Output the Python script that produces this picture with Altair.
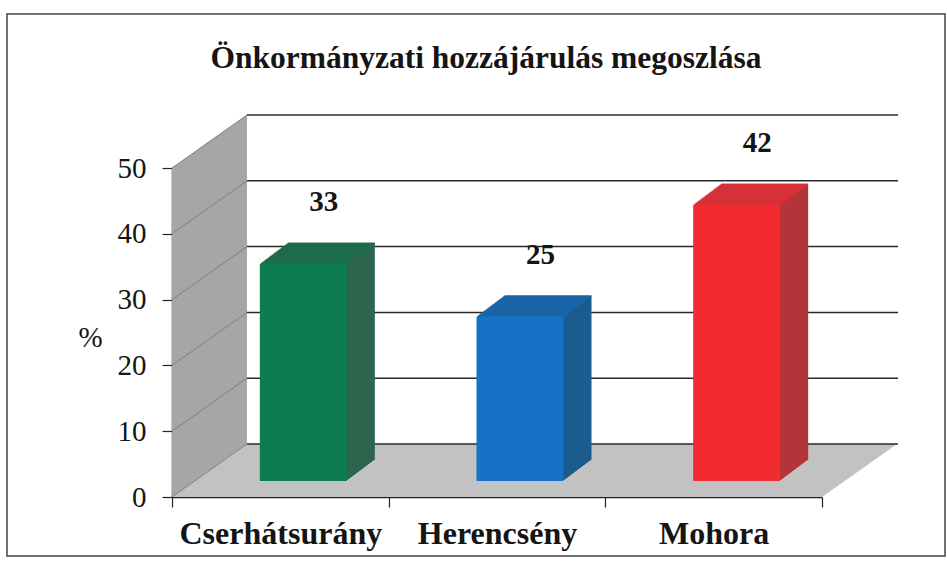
import altair as alt
import pandas as pd

# ---------------- data ----------------
categories = ["Cserhátsurány", "Herencsény", "Mohora"]
values = [33, 25, 42]
y_ticks = [0, 10, 20, 30, 40, 50]
title_text = "Önkormányzati hozzájárulás megoszlása"
y_title = "%"

# ---------------- styles ----------------
front_colors = ["#0c7d50", "#1672c6", "#f22b30"]
top_colors = ["#1d6c4a", "#1765a6", "#d6303a"]
side_colors = ["#2e6550", "#1b5d8e", "#b3353a"]
FONT = "Liberation Serif"
INK = "#151515"

W, H = 650, 329
LEFT, TOP = 172, 168
PAD = {"left": LEFT, "top": TOP, "right": 947 - LEFT - W, "bottom": 571 - TOP - H}

BAR_W = 87
BX, BY = 23, -16      # bar position inside the 3D depth
DX, DY = 28, 21       # bar depth (pixels)
N = 21                # steps for the bevel faces
WALL_DX, WALL_DY = 75, 53

bars_df = pd.DataFrame({"category": categories, "value": values})
ticks_df = pd.DataFrame({"tick": y_ticks})
one_df = pd.DataFrame({"k": [0]})

x_scale = alt.Scale(domain=categories, paddingInner=0, paddingOuter=0)
y_scale = alt.Scale(domain=[0, 50], nice=False, zero=True)

x_axis = alt.Axis(
    title=None, labelAngle=0, labelFont=FONT, labelFontSize=32, labelFontWeight="bold",
    labelColor=INK, labelPadding=11, labelLimit=400, tickBand="extent", tickSize=10,
    tickColor="#222", tickWidth=1.2, domainColor="#222", domainWidth=1.5, grid=False,
    labelOverlap=False,
)
y_axis = alt.Axis(
    values=y_ticks, title=y_title, titleAngle=0, titleX=-82, titleY=169,
    titleAlign="center", titleBaseline="middle", titleFont=FONT, titleFontSize=29,
    titleFontWeight="normal", titleColor=INK, labelFont=FONT, labelFontSize=29,
    labelColor=INK, labelPadding=16, tickSize=10, tickColor="#222", tickWidth=1.2,
    domainColor="#222", domainWidth=1.5, grid=False, labelFlush=False, labelOverlap=False,
)

X = alt.X("category:N", sort=categories, scale=x_scale, axis=x_axis)


def Y(field):
    return alt.Y(f"{field}:Q", scale=y_scale, axis=y_axis)


def C(rng):
    return alt.Color("category:N", scale=alt.Scale(domain=categories, range=rng), legend=None)


# outer frame
frame = alt.Chart(one_df).mark_rect(fillOpacity=0, stroke="#444", strokeWidth=1.5).encode(
    x=alt.value(-165), x2=alt.value(773), y=alt.value(-154), y2=alt.value(388)
)

# side wall (left) and floor as custom polygons
side_wall = alt.Chart(one_df).mark_point(
    shape="M-0.1963,-0.7225 L0.1963,-1 L0.1963,0.7225 L-0.1963,1 Z",
    filled=True, size=382 ** 2, color="#a6a6a6", opacity=1, strokeWidth=0,
).encode(x=alt.value(37.5), y=alt.value(138))

floor = alt.Chart(one_df).mark_point(
    shape="M-1,0.0731 L0.7931,0.0731 L1,-0.0731 L-0.7931,-0.0731 Z",
    filled=True, size=725 ** 2, color="#c2c2c2", opacity=1, strokeWidth=0,
).encode(x=alt.value(362.5), y=alt.value(302.5))

side_lines = alt.Chart(ticks_df).mark_rule(
    color="#808080", strokeWidth=1, y2Offset=-WALL_DY
).encode(x=alt.value(0), x2=alt.value(WALL_DX), y=Y("tick"), y2=alt.Y2("tick:Q"))

gridlines = alt.Chart(ticks_df).mark_rule(
    color="#2a2a2a", strokeWidth=1.5, yOffset=-WALL_DY
).encode(x=alt.value(WALL_DX), x2=alt.value(W + WALL_DX + 1), y=Y("tick"))

layers = [frame, side_wall, floor, side_lines, gridlines]

# side (dark) extrusion
for k in range(N, 0, -1):
    off_x = BX + DX * k / N
    off_y = BY - DY * k / N
    layers.append(
        alt.Chart(bars_df).mark_bar(
            size=BAR_W, xOffset=off_x, yOffset=off_y, y2Offset=off_y, opacity=1
        ).encode(x=X, y=Y("value"), color=C(side_colors))
    )

# top faces
for k in range(1, N + 1):
    layers.append(
        alt.Chart(bars_df).mark_bar(
            size=BAR_W, xOffset=BX + DX * k / N,
            yOffset=BY - DY * k / N, y2Offset=BY - DY * (k - 1) / N + 0.6, opacity=1
        ).encode(x=X, y=Y("value"), y2=alt.Y2("value:Q"), color=C(top_colors))
    )

# front faces
front = alt.Chart(bars_df).mark_bar(
    size=BAR_W, xOffset=BX, yOffset=BY, y2Offset=BY, opacity=1
).encode(x=X, y=Y("value"), color=C(front_colors))
layers.append(front)

labels = alt.Chart(bars_df).mark_text(
    font=FONT, fontSize=29, fontWeight="bold", color=INK, xOffset=43.5, yOffset=-78
).encode(x=X, y=Y("value"), text="value:Q")
layers.append(labels)

title = alt.Chart(one_df).mark_text(
    text=title_text, font=FONT, fontSize=31.5, fontWeight="bold", color=INK,
    align="center", baseline="alphabetic"
).encode(x=alt.value(314), y=alt.value(-100))
layers.append(title)

chart = (
    alt.layer(*layers)
    .resolve_scale(color="independent")
    .properties(width=W, height=H, padding=PAD,
                autosize=alt.AutoSizeParams(type="none"), background="white")
    .configure_view(strokeWidth=0)
)

chart.save("out.html", embed_options={"renderer": "svg", "actions": False})
